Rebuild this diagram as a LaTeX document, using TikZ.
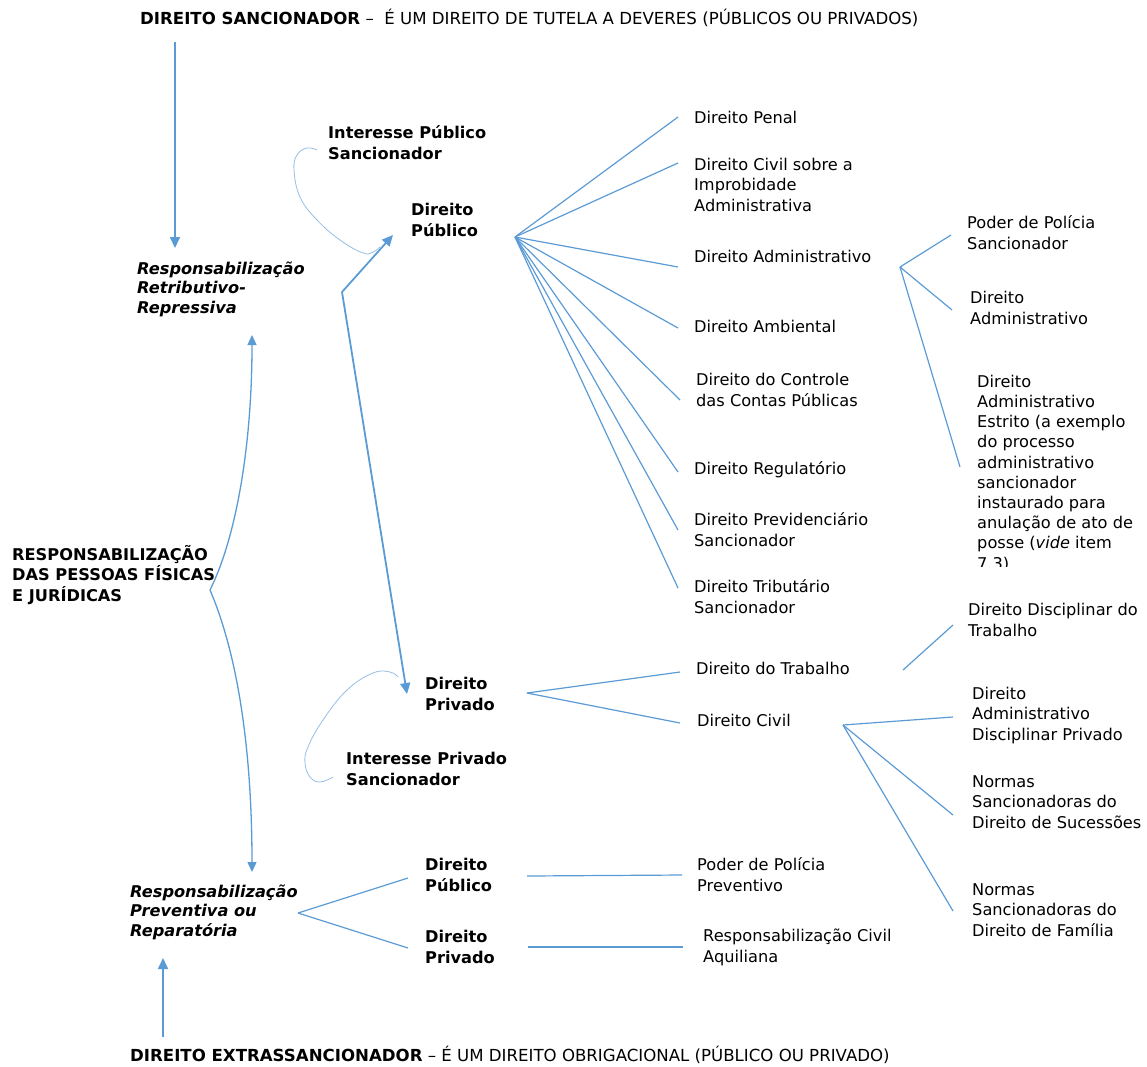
\documentclass[tikz,border=0pt]{standalone}
\usepackage{fontspec}
\setmainfont{DejaVu Sans}
\usetikzlibrary{arrows.meta, positioning, calc}

\definecolor{linkblue}{RGB}{91,155,213}
\definecolor{loopblue}{RGB}{150,190,228}

\tikzset{
  txt/.style  = {anchor=base west, inner sep=0pt, align=left,
                 font=\fontsize{16.2}{20.5}\selectfont},
  tit/.style  = {txt, font=\fontsize{16.2}{20.5}\selectfont\bfseries},
  titit/.style= {txt, font=\fontsize{16.2}{19.5}\selectfont\bfseries\itshape},
  head/.style = {txt, font=\fontsize{16.6}{20.5}\selectfont},
  ramo/.style = {linkblue, line width=1.2pt},
  seta/.style = {linkblue, line width=1.8pt, -{Triangle[length=11pt,width=10pt]}},
  chave/.style= {linkblue, line width=1.3pt, -{Triangle[length=10pt,width=9pt]}},
  laco/.style = {loopblue, line width=0.8pt}
}

\begin{document}
\begin{tikzpicture}[x=1pt, y=-1pt]
    \useasboundingbox (0,0) rectangle (1147,1066);

    % Titles (anchored at the baseline of the last line)
    \node[head] (sanc) at (140,24) {\textbf{DIREITO SANCIONADOR}\ –\ \ É UM DIREITO DE TUTELA A DEVERES (PÚBLICOS OU PRIVADOS)};
    \node[head] (extra) at (130,1061) {\textbf{DIREITO EXTRASSANCIONADOR}\ –\ É UM DIREITO OBRIGACIONAL (PÚBLICO OU PRIVADO)};

    % Left column
    \node[titit] (retr) at (137,313) {Responsabilização\\Retributivo-\\Repressiva};
    \node[tit] (resp) at (12,601) {RESPONSABILIZAÇÃO\\DAS PESSOAS FÍSICAS\\E JURÍDICAS};
    \node[titit] (prev) at (130,936) {Responsabilização\\Preventiva ou\\Reparatória};

    % Public / private law
    \node[tit] (ipub) at (328,159) {Interesse Público\\Sancionador};
    \node[tit] (dpub) at (411,236) {Direito\\Público};
    \node[tit] (dpriv) at (425,710) {Direito\\Privado};
    \node[tit] (ipriv) at (346,785) {Interesse Privado\\Sancionador};
    \node[tit] (dpub2) at (425,891) {Direito\\Público};
    \node[tit] (dpriv2) at (425,963) {Direito\\Privado};

    % Branches of public law
    \node[txt] (pen) at (694,123) {Direito Penal};
    \node[txt] (imp) at (694,211) {Direito Civil sobre a\\Improbidade\\Administrativa};
    \node[txt] (adm) at (694,262) {Direito Administrativo};
    \node[txt] (amb) at (694,332) {Direito Ambiental};
    \node[txt] (cont) at (696,406) {Direito do Controle\\das Contas Públicas};
    \node[txt] (reg) at (694,474) {Direito Regulatório};
    \node[txt] (prv) at (694,546) {Direito Previdenciário\\Sancionador};
    \node[txt] (trib) at (694,613) {Direito Tributário\\Sancionador};

    % Branches of administrative law
    \node[txt] (pps) at (967,249) {Poder de Polícia\\Sancionador};
    \node[txt] (adm2) at (970,324) {Direito\\Administrativo};
    \begin{scope}
        \clip (950,360) rectangle (1147,566);
        \node[txt, font=\fontsize{16.2}{20.2}\selectfont] (estr) at (977,569) {Direito\\Administrativo\\Estrito (a exemplo\\do processo\\administrativo\\sancionador\\instaurado para\\anulação de ato de\\posse (\textit{vide} item\\7.3)};
    \end{scope}

    % Branches of private law
    \node[txt] (trab) at (696,674) {Direito do Trabalho};
    \node[txt] (civ) at (697,726) {Direito Civil};
    \node[txt] (ddt) at (968,636) {Direito Disciplinar do\\Trabalho};
    \node[txt] (dadp) at (972,740) {Direito\\Administrativo\\Disciplinar Privado};
    \node[txt] (nsuc) at (972,828) {Normas\\Sancionadoras do\\Direito de Sucessões};
    \node[txt] (nfam) at (972,936) {Normas\\Sancionadoras do\\Direito de Família};

    % Preventive branches
    \node[txt] (ppp) at (697,891) {Poder de Polícia\\Preventivo};
    \node[txt] (rca) at (703,962) {Responsabilização Civil\\Aquiliana};

    % Fan points
    \coordinate (pubfan) at (515,237);
    \coordinate (admfan) at (900,267);
    \coordinate (privfan) at (527,693);
    \coordinate (trabfan) at (903,670);
    \coordinate (civfan) at (843,725);
    \coordinate (prevfan) at (298,913);
    \coordinate (brace) at ([shift={(198,-11)}]resp.base west);
    \coordinate (kink) at (342,292);

    % Fans
    \foreach \n/\dy in {pen/-6, imp/-48, adm/5, amb/-4, cont/-6, reg/-2, prv/-16, trib/-25}
        \draw[ramo] (pubfan) -- ([shift={(-16,\dy)}]\n.base west);
    \foreach \n/\dx/\dy in {pps/-16/-14, adm2/-18/-14, estr/-17/-102}
        \draw[ramo] (admfan) -- ([shift={(\dx,\dy)}]\n.base west);
    \foreach \n/\dx/\dy in {trab/-16/-2, civ/-17/-3}
        \draw[ramo] (privfan) -- ([shift={(\dx,\dy)}]\n.base west);
    \draw[ramo] (trabfan) -- ([shift={(-15,-11)}]ddt.base west);
    \foreach \n/\dy in {dadp/-23, nsuc/-13, nfam/-25}
        \draw[ramo] (civfan) -- ([shift={(-19,\dy)}]\n.base west);
    \foreach \n/\dy in {dpub2/-13, dpriv2/-15}
        \draw[ramo] (prevfan) -- ([shift={(-17,\dy)}]\n.base west);
    \draw[ramo] ([shift={(102,-15)}]dpub2.base west) -- ([shift={(-15,-16)}]ppp.base west);
    \draw[ramo] ([shift={(103,-16)}]dpriv2.base west) -- ([shift={(-20,-15)}]rca.base west);

    % Arrows
    \draw[seta] ([shift={(35,18)}]sanc.base west) -- ([shift={(38,-65)}]retr.base west);
    \draw[seta] ([shift={(33,-24)}]extra.base west) -- ([shift={(33,22)}]prev.base west);
    \draw[seta] (kink) -- ([shift={(-18,-1)}]dpub.base west);
    \draw[seta] (kink) -- ([shift={(-18,-16)}]dpriv.base west);
    \draw[chave] (brace) .. controls (235,540) and (252,450) .. ([shift={(115,22)}]retr.base west);
    \draw[chave] (brace) .. controls (240,660) and (252,760) .. ([shift={(122,-64)}]prev.base west);

    % Loops
    \draw[laco] plot[smooth, tension=0.7] coordinates {([shift={(-11,-9)}]ipub.base west) (307,148) (297,155) (294,170) (300,197) (317,220) (340,240) (363,253) (373,252) (380,247)};
    \draw[laco] plot[smooth, tension=0.7] coordinates {(398,677) (390,672) (373,673) (347,690) (323,720) (308,747) (305,763) (310,777) (320,782) ([shift={(-13,-8)}]ipriv.base west)};
\end{tikzpicture}
\end{document}
